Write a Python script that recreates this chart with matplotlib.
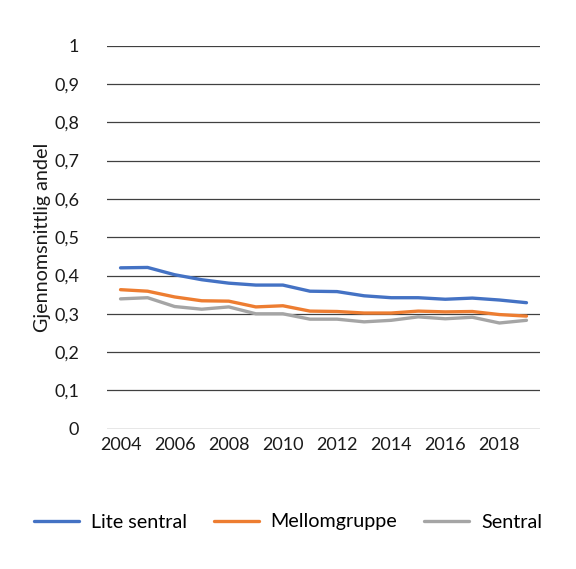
import numpy as np
import matplotlib
matplotlib.use("Agg")
import matplotlib.pyplot as plt

years = list(range(2004, 2020))
lite_sentral = [0.420, 0.421, 0.402, 0.389, 0.380, 0.375, 0.375, 0.359, 0.358,
                0.347, 0.342, 0.342, 0.338, 0.341, 0.336, 0.329]
mellomgruppe = [0.363, 0.359, 0.344, 0.334, 0.333, 0.318, 0.321, 0.307, 0.306,
                0.302, 0.302, 0.307, 0.305, 0.306, 0.298, 0.294]
sentral = [0.339, 0.342, 0.319, 0.312, 0.318, 0.300, 0.300, 0.286, 0.286,
           0.279, 0.283, 0.292, 0.287, 0.291, 0.276, 0.283]
series_names = ["Lite sentral", "Mellomgruppe", "Sentral"]
colors = ["#4472C4", "#ED7D31", "#A5A5A5"]
yticks = np.arange(0, 1.01, 0.1)

plt.rcParams["font.family"] = ["Lato", "DejaVu Sans"]
fs = 13
fs_big = 14.2

fig = plt.figure(figsize=(5.76, 5.69), dpi=100)
ax = fig.add_axes([107 / 576, 140.3 / 569, 433 / 576, 383 / 569])

x = np.arange(len(years))
for vals, name, c in zip([lite_sentral, mellomgruppe, sentral], series_names, colors):
    ax.plot(x, vals, color=c, lw=2.4, label=name, solid_capstyle="round")

ax.set_xlim(-0.5, len(years) - 0.5)
ax.set_ylim(0, 1)
ax.set_yticks(yticks)
ax.set_yticklabels([("%g" % round(v, 1)).replace(".", ",") for v in yticks])
ax.set_xticks(x[::2])
ax.set_xticklabels([str(y) for y in years[::2]])
ax.yaxis.grid(True, color="#404040", lw=0.9)
ax.set_axisbelow(True)
for s in ax.spines.values():
    s.set_visible(False)
ax.tick_params(length=0, labelsize=fs, colors="#1a1a1a")
ax.tick_params(axis="y", pad=20)
ax.tick_params(axis="x", pad=6)
ax.set_ylabel("Gjennomsnittlig andel", fontsize=fs_big, color="#1a1a1a", labelpad=2)

fig.legend(loc="center", bbox_to_anchor=(0.5, 1 - 522 / 569), ncol=3, frameon=False,
           fontsize=fs_big, handlelength=2.3, columnspacing=1.35, handletextpad=0.6)

fig.savefig("out.png", dpi=100)
